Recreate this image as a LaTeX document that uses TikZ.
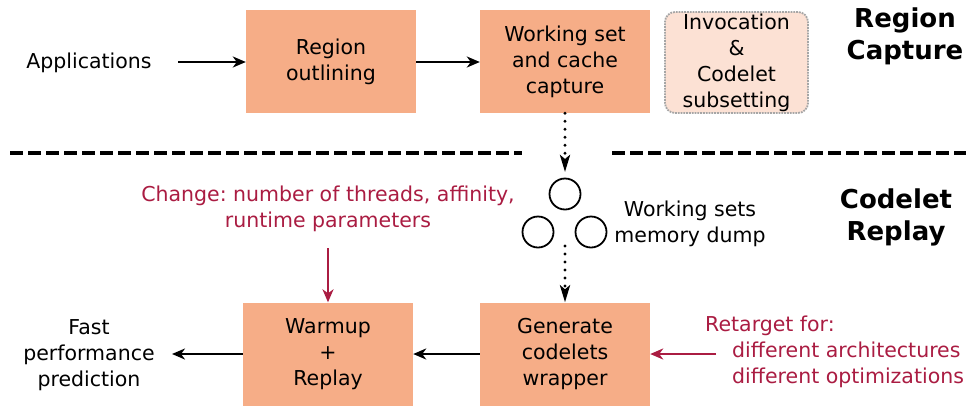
\documentclass[tikz,border=0pt]{standalone}
\usepackage{fontspec}
\setmainfont{DejaVu Sans}
\usetikzlibrary{arrows.meta}
\definecolor{boxfill}{RGB}{246,173,135}
\definecolor{lightfill}{RGB}{252,225,212}
\definecolor{redtxt}{RGB}{170,28,66}
\frenchspacing
\begin{document}
\begin{tikzpicture}[x=1pt,y=-1pt,
  every node/.style={font=\fontsize{20.5}{26}\selectfont, align=center, inner sep=0pt},
  stepbox/.style={fill=boxfill, minimum width=170, minimum height=103},
  title/.style={font=\fontsize{26}{32}\selectfont\bfseries},
  arr/.style={line width=2.4pt, -{Stealth[length=13pt,width=11pt,inset=4pt]}},
  dotarr/.style={line width=3.2pt, dash pattern=on 0pt off 8pt, line cap=round, -{Stealth[length=17pt,width=10pt,inset=4pt,line cap=butt]}},
  redarr/.style={arr, draw=redtxt, color=redtxt},
  sep/.style={line width=3.2pt, dash pattern=on 13pt off 5pt}]
\useasboundingbox (0,0) rectangle (971,405);

% top row
\node (apps) at (89,63) {Applications};
\node[stepbox] (outl) at (331,61.5) {Region\\outlining};
\node[stepbox] (ws) at (565,61.5) {Working set\\and cache\\capture};
\node[fill=lightfill, draw=gray!70, densely dotted, line width=1.8pt, rounded corners=10pt,
      minimum width=143, minimum height=101] (inv) at (736.5,62.5) {Invocation\\\&\\Codelet\\subsetting};
\node[title] (rc) at (905,36) {Region\\Capture};

\coordinate (aa) at (178,62);
\draw[arr] (aa) -- (aa -| outl.west);
\coordinate (ob) at (416,62);
\draw[arr] (ob) -- (ob -| ws.west);

% separators
\coordinate (s1a) at (10,153);
\coordinate (s1b) at (522,153);
\coordinate (s2a) at (612,153);
\coordinate (s2b) at (966,153);
\draw[sep] (s1a) -- (s1b);
\draw[sep] (s2a) -- (s2b);

% circles
\node[draw, circle, line width=1.8pt, minimum size=31] (c1) at (565,194) {};
\node[draw, circle, line width=1.8pt, minimum size=31] (c2) at (538,232) {};
\node[draw, circle, line width=1.8pt, minimum size=31] (c3) at (591,232) {};
\node (wsm) at (690,224) {Working sets\\memory dump};
\node[title] (cr) at (896,217) {Codelet\\Replay};

\coordinate (d1) at (565,172);
\coordinate (d2) at (565,246);
\draw[dotarr] (ws.south) -- (d1);

% bottom row
\node[stepbox] (warm) at (328,354) {Warmup\\+\\Replay};
\node[stepbox] (gen) at (565,354) {Generate\\codelets\\wrapper};
\node (fast) at (89,355) {Fast\\performance\\prediction};
\draw[dotarr] (d2) -- (gen.north);

\draw[arr] (gen.west) -- (warm.east);
\coordinate (fa) at (172,354);
\draw[arr] (warm.west) -- (fa);

% red annotations
\node[text=redtxt] (chg) at (328,209) {Change: number of threads, affinity,\\runtime parameters};
\coordinate (ca) at (328,248);
\draw[redarr] (ca) -- (warm.north);

\node[text=redtxt, align=left, anchor=north west] (ret) at (705,316) {Retarget for:\\\hspace*{27pt}different architectures\\\hspace*{27pt}different optimizations};
\coordinate (ra) at (716,354);
\draw[redarr] (ra) -- (gen.east);
\end{tikzpicture}
\end{document}
